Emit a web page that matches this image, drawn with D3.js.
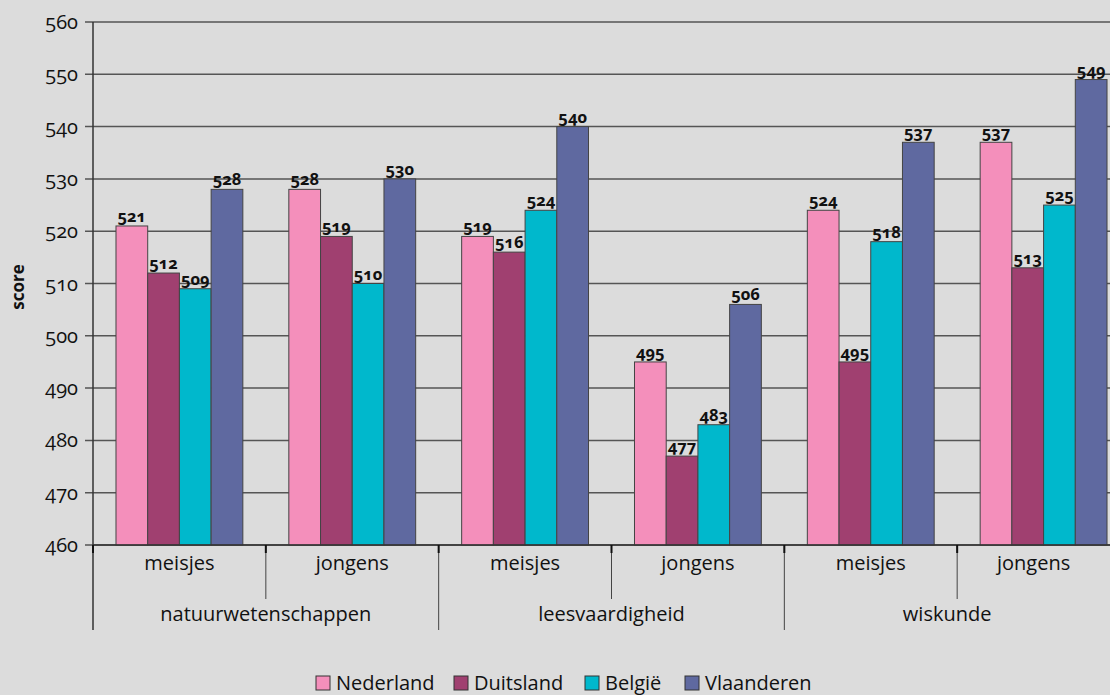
<!DOCTYPE html>
<html><head><meta charset="utf-8">
<script src="https://cdn.jsdelivr.net/npm/d3@7"></script>
<style>
html,body{margin:0;padding:0;background:#dcdcdc;}
svg{display:block;font-family:"Open Sans",Lato,sans-serif;font-variant-numeric:oldstyle-nums;font-feature-settings:"onum" 1;}
</style></head><body>
<svg id="c" width="1110" height="695"></svg>
<script>
const subjects = ["natuurwetenschappen","leesvaardigheid","wiskunde"];
const genders = ["meisjes","jongens"];
const series = ["Nederland","Duitsland","België","Vlaanderen"];
const colors = ["#f48fbb","#a04070","#00b8cc","#5f69a0"];
// values per subject×gender, in series order
const natuurMeisjes = [521,512,509,528];
const natuurJongens = [528,519,510,530];
const leesMeisjes = [519,516,524,540];
const leesJongens = [495,477,483,506];
const wiskMeisjes = [524,495,518,537];
const wiskJongens = [537,513,525,549];
const yTicks = [460,470,480,490,500,510,520,530,540,550,560];

const groups = [
  {subject:subjects[0], gender:genders[0], values:natuurMeisjes},
  {subject:subjects[0], gender:genders[1], values:natuurJongens},
  {subject:subjects[1], gender:genders[0], values:leesMeisjes},
  {subject:subjects[1], gender:genders[1], values:leesJongens},
  {subject:subjects[2], gender:genders[0], values:wiskMeisjes},
  {subject:subjects[2], gender:genders[1], values:wiskJongens}
].map((g,i)=>({...g, key:i}));

const W = 1110;
const svg = d3.select("#c");
const mLeft = 93, mRight = 1130, mTop = 22, mBottom = 545;

const y = d3.scaleLinear().domain([460,560]).range([mBottom, mTop]);
const x0 = d3.scaleBand().domain(groups.map(g=>g.key)).range([mLeft, mRight]);
const x1 = d3.scaleBand().domain(series).range([0, x0.bandwidth()]).paddingInner(0).paddingOuter(0.725);

// gridlines + ticks
svg.append("g").selectAll("line").data(yTicks).join("line")
  .attr("x1", mLeft-8).attr("x2", W)
  .attr("y1", d=>y(d)).attr("y2", d=>y(d))
  .attr("stroke","#555").attr("stroke-width",1.5);
svg.append("g").selectAll("text").data(yTicks).join("text")
  .attr("x", 78).attr("y", d=>y(d)).attr("dy","0.35em")
  .attr("text-anchor","end").attr("font-size",20).attr("fill","#111")
  .text(d=>d);

// bars
const gg = svg.append("g").selectAll("g").data(groups).join("g")
  .attr("transform", d=>`translate(${x0(d.key)},0)`);
gg.selectAll("rect").data(d=>d.values.map((v,i)=>({s:series[i], v, c:colors[i]}))).join("rect")
  .attr("x", d=>x1(d.s)).attr("width", x1.bandwidth())
  .attr("y", d=>y(d.v)).attr("height", d=>mBottom - y(d.v))
  .attr("fill", d=>d.c).attr("stroke","#444").attr("stroke-width",1);
gg.selectAll("text").data(d=>d.values.map((v,i)=>({s:series[i], v}))).join("text")
  .attr("x", d=>x1(d.s)+x1.bandwidth()/2).attr("y", d=>y(d.v)-4)
  .attr("text-anchor","middle").attr("font-size",16.5).attr("font-weight","bold").attr("fill","#111")
  .text(d=>d.v);

// axes lines
svg.append("line").attr("x1",mLeft).attr("x2",mLeft).attr("y1",mTop).attr("y2",630)
  .attr("stroke","#333").attr("stroke-width",1.5);
svg.append("line").attr("x1",mLeft).attr("x2",W).attr("y1",mBottom).attr("y2",mBottom)
  .attr("stroke","#333").attr("stroke-width",1.5);

// category separators
groups.forEach((g,i)=>{
  if(i===0) return;
  const xx = x0(g.key);
  const major = g.gender===genders[0];
  svg.append("line").attr("x1",xx).attr("x2",xx).attr("y1",mBottom).attr("y2", major?630:599)
    .attr("stroke","#444").attr("stroke-width",1);
});
// small dark ticks at boundaries
groups.forEach(g=>{
  const xx = x0(g.key);
  svg.append("line").attr("x1",xx).attr("x2",xx).attr("y1",mBottom).attr("y2",mBottom+8)
    .attr("stroke","#111").attr("stroke-width",2);
});

// gender labels (centred in visible part of each band)
const mid = (a,b)=>(a+Math.min(b,W))/2;
svg.append("g").selectAll("text").data(groups).join("text")
  .attr("x", d=>mid(x0(d.key), x0(d.key)+x0.bandwidth())).attr("y", 570)
  .attr("text-anchor","middle").attr("font-size",20).attr("fill","#111")
  .text(d=>d.gender);
// subject labels
svg.append("g").selectAll("text").data(subjects).join("text")
  .attr("x", (d,i)=>mid(x0(i*2), x0(i*2+1)+x0.bandwidth())).attr("y", 621)
  .attr("text-anchor","middle").attr("font-size",20).attr("fill","#111")
  .text(d=>d);

// y title
svg.append("text").attr("transform","translate(24,287) rotate(-90)")
  .attr("text-anchor","middle").attr("font-size",17).attr("font-weight","bold").attr("fill","#111")
  .text("score");

// legend
const legX = [316,454,585,685];
const lg = svg.append("g").selectAll("g").data(series).join("g")
  .attr("transform",(d,i)=>`translate(${legX[i]},676)`);
lg.append("rect").attr("width",14).attr("height",14)
  .attr("fill",(d,i)=>colors[i]).attr("stroke","#333").attr("stroke-width",1);
lg.append("text").attr("x",20).attr("y",7).attr("dy","0.35em")
  .attr("font-size",20).attr("fill","#111").text(d=>d);
</script>
</body></html>
